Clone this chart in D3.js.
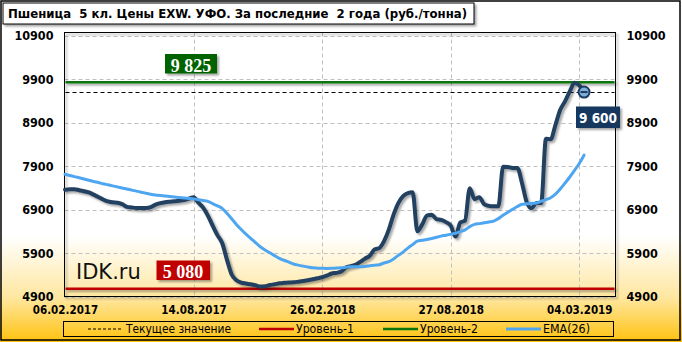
<!DOCTYPE html>
<html><head><meta charset="utf-8">
<script src="https://cdn.jsdelivr.net/npm/d3@7"></script>
<style>body{margin:0;background:#fff}svg{display:block}</style>
</head><body>
<script>
// ---------- DATA ----------
const titleText = "Пшеница  5 кл. Цены EXW. УФО. За последние  2 года (руб./тонна)";
const priceValues = [
7356,7365,7367,7344,7321,7294,7241,7188,7131,7085,
7066,7057,7023,6961,6947,6936,6936,6936,6954,7011,
7046,7069,7080,7089,7103,7115,7149,7183,7057,6943,
6759,6530,6311,6128,5749,5405,5274,5221,5198,5180,
5157,5130,5134,5164,5180,5203,5214,5221,5226,5240,
5256,5274,5297,5320,5343,5382,5428,5444,5474,5566,
5600,5628,5696,5772,5836,5979,6013,6174,6438,6782,
7046,7206,7275,7294,6399,6552,6759,6782,6679,6660,
6610,6529,6277,6598,6644,7390,7138,7184,7023,6984,
6972,6972,7884,7877,7856,7854,7493,7057,6930,7050,
7050,8526,8515,8847,9192,9387,9616,9811,9754,9600];
const emaValues = [
7709,7682,7656,7629,7601,7574,7544,7519,7491,7468,
7443,7420,7395,7372,7346,7323,7298,7275,7252,7234,
7222,7209,7197,7186,7174,7165,7154,7144,7126,7108,
7087,7034,6984,6926,6812,6686,6557,6440,6332,6238,
6139,6045,5969,5905,5839,5777,5733,5692,5648,5621,
5598,5577,5559,5552,5547,5545,5547,5554,5561,5572,
5582,5582,5582,5589,5607,5621,5632,5669,5699,5763,
5846,5921,6013,6093,6174,6192,6210,6233,6261,6288,
6309,6332,6355,6392,6431,6507,6557,6575,6594,6612,
6633,6690,6768,6837,6904,6970,7021,7030,7039,7050,
7089,7128,7170,7252,7369,7507,7647,7799,7959,8150];
const yTicks = [4900,5900,6900,7900,8900,9900,10900];
const xTickIndex = [0,27,54,81,108];
const xTickLabels = ["06.02.2017","14.08.2017","26.02.2018","27.08.2018","04.03.2019"];
const level1 = 5080, level2 = 9825, currentValue = 9600;
const level1Label = "5 080", level2Label = "9 825", currentLabel = "9 600";
const legendLabels = ["Текущее значение","Уровень-1","Уровень-2","EMA(26)"];
const brand = "IDK.ru";

// ---------- CHART ----------
const W = 682, H = 342;
const FONT = "'DejaVu Sans Condensed','DejaVu Sans',sans-serif";
const svg = d3.select("body").append("svg").attr("width", W).attr("height", H);
const defs = svg.append("defs");
const g = defs.append("linearGradient").attr("id","bg").attr("x1",0).attr("y1",0).attr("x2",0).attr("y2",1);
[[0,"#ffffff"],[0.69,"#ffffff"],[0.87,"#FFE7A0"],[1,"#FFC20E"]].forEach(s=>g.append("stop").attr("offset",s[0]).attr("stop-color",s[1]));
const f = defs.append("filter").attr("id","sh").attr("filterUnits","userSpaceOnUse")
  .attr("x",0).attr("y",0).attr("width",W).attr("height",H);
f.append("feDropShadow").attr("dx",2).attr("dy",2).attr("stdDeviation",1.2).attr("flood-color","#000").attr("flood-opacity",0.35);

svg.append("rect").attr("x",0).attr("y",0).attr("width",W).attr("height",H).attr("fill","url(#bg)");
svg.append("rect").attr("x",1).attr("y",1).attr("width",W-3).attr("height",H-3).attr("fill","none").attr("stroke","#000").attr("stroke-width",1.5);

const P = {l:64.5, t:32.5, r:615.5, b:296.5};
const x = d3.scaleLinear().domain([0,115.5]).range([65,615]);
const y = d3.scaleLinear().domain([4900,10900]).range([296.5,35.5]);

// grid
svg.append("g").selectAll("line").data(yTicks).join("line")
  .attr("x1",P.l).attr("x2",P.r).attr("y1",d=>Math.round(y(d))+0.5).attr("y2",d=>Math.round(y(d))+0.5)
  .attr("stroke","#C0C0C0").attr("stroke-dasharray","4,3");
svg.append("g").selectAll("line").data(xTickIndex.slice(1)).join("line")
  .attr("x1",d=>Math.round(x(d))+0.5).attr("x2",d=>Math.round(x(d))+0.5).attr("y1",P.t).attr("y2",P.b)
  .attr("stroke","#C0C0C0").attr("stroke-dasharray","4,3");

// plot border
svg.append("rect").attr("x",P.l).attr("y",P.t).attr("width",P.r-P.l).attr("height",P.b-P.t)
  .attr("fill","none").attr("stroke","#000").attr("stroke-width",1).attr("filter","url(#sh)");

// levels
svg.append("line").attr("x1",P.l+1).attr("x2",P.r-1).attr("y1",y(level2)).attr("y2",y(level2))
  .attr("stroke","#0A740A").attr("stroke-width",2.5).attr("filter","url(#sh)");
svg.append("line").attr("x1",P.l+1).attr("x2",P.r-1).attr("y1",y(level1)).attr("y2",y(level1))
  .attr("stroke","#C00000").attr("stroke-width",2.5).attr("filter","url(#sh)");
svg.append("line").attr("x1",P.l+1).attr("x2",P.r-1).attr("y1",Math.round(y(currentValue))+0.5).attr("y2",Math.round(y(currentValue))+0.5)
  .attr("stroke","#000").attr("stroke-width",1).attr("stroke-dasharray","4,3");

// lines
const line = d3.line().x((d,i)=>x(i)).y(d=>y(d)).curve(d3.curveMonotoneX);
svg.append("path").datum(priceValues).attr("d",line).attr("fill","none")
  .attr("stroke","#243F60").attr("stroke-width",4).attr("stroke-linejoin","round").attr("stroke-linecap","round").attr("filter","url(#sh)");
svg.append("path").datum(emaValues).attr("d",line).attr("fill","none")
  .attr("stroke","#4FA6F0").attr("stroke-width",3).attr("stroke-linejoin","round").attr("stroke-linecap","round");

// marker
const li = priceValues.length-1;
const mx = x(li), my = y(priceValues[li]);
svg.append("circle").attr("cx",mx).attr("cy",my).attr("r",5.5).attr("fill","#7FB0DA").attr("stroke","#1F3A5F").attr("stroke-width",2);
svg.append("line").attr("x1",mx-3.5).attr("x2",mx+3.5).attr("y1",my).attr("y2",my).attr("stroke","#1F3A5F").attr("stroke-width",2);

// value labels
function label(bx,by,bw,bh,fill,txt,tx,ty,fs,fam){
  svg.append("rect").attr("x",bx).attr("y",by).attr("width",bw).attr("height",bh).attr("fill",fill).attr("filter","url(#sh)");
  svg.append("text").attr("x",tx).attr("y",ty).attr("text-anchor","middle").attr("fill","#fff")
    .attr("font-family",fam).attr("font-weight","bold").attr("font-size",fs).style("white-space","pre").text(txt);
}
label(165,54,52,19.5,"#006400",level2Label,191,71.5,18,"'Liberation Serif','Times New Roman',serif");
label(156.5,260.5,53.5,19.5,"#C00000",level1Label,183,278,18,"'Liberation Serif','Times New Roman',serif");
label(576,106.5,44,21.5,"#17375E",currentLabel,598,122.5,13.5,FONT);

// brand
svg.append("text").attr("x",76).attr("y",279).attr("font-family","'DejaVu Sans',sans-serif").attr("font-size",21).attr("fill","#111").text(brand);

// axes
function styleAxis(sel){
  sel.select(".domain").remove();
  sel.selectAll("text").attr("font-family",FONT).attr("font-weight","bold").attr("fill","#000");
}
svg.append("g").attr("transform",`translate(${P.l},0)`)
  .call(d3.axisLeft(y).tickValues(yTicks).tickSize(0).tickPadding(11).tickFormat(d3.format("d")))
  .call(styleAxis).selectAll("text").attr("font-size",12.5);
svg.append("g").attr("transform",`translate(${P.r},0)`)
  .call(d3.axisRight(y).tickValues(yTicks).tickSize(0).tickPadding(11).tickFormat(d3.format("d")))
  .call(styleAxis).selectAll("text").attr("font-size",12.5);
svg.append("g").attr("transform",`translate(0,${P.b})`)
  .call(d3.axisBottom(x).tickValues(xTickIndex).tickSize(0).tickPadding(9).tickFormat((d,i)=>xTickLabels[i]))
  .call(styleAxis).selectAll("text").attr("font-size",11.5);

// title
svg.append("rect").attr("x",3).attr("y",3).attr("width",471).attr("height",21).attr("fill","#fff").attr("stroke","#000").attr("filter","url(#sh)");
svg.append("text").attr("x",8).attr("y",18).attr("font-family",FONT).attr("font-weight","bold").attr("font-size",13)
  .attr("textLength",459).attr("lengthAdjust","spacingAndGlyphs").style("white-space","pre").text(titleText);

// legend
const lg = svg.append("g");
lg.append("rect").attr("x",63.5).attr("y",321.5).attr("width",550).attr("height",15).attr("fill","none").attr("stroke","#000");
const items = [
  {x1:88,x2:121,stroke:"#000",w:1,dash:"3,2",tx:126,tw:105},
  {x1:259,x2:294,stroke:"#C00000",w:2.5,dash:null,tx:296,tw:58},
  {x1:383,x2:418,stroke:"#0A740A",w:2.5,dash:null,tx:420,tw:58},
  {x1:506,x2:541,stroke:"#4FA6F0",w:3,dash:null,tx:543,tw:47}
];
items.forEach((it,i)=>{
  lg.append("line").attr("x1",it.x1).attr("x2",it.x2).attr("y1",329).attr("y2",329)
    .attr("stroke",it.stroke).attr("stroke-width",it.w).attr("stroke-dasharray",it.dash);
  lg.append("text").attr("x",it.tx).attr("y",333).attr("font-family",FONT).attr("font-size",11.5).attr("fill","#000")
    .attr("textLength",it.tw).attr("lengthAdjust","spacingAndGlyphs").text(legendLabels[i]);
});
</script>
</body></html>
